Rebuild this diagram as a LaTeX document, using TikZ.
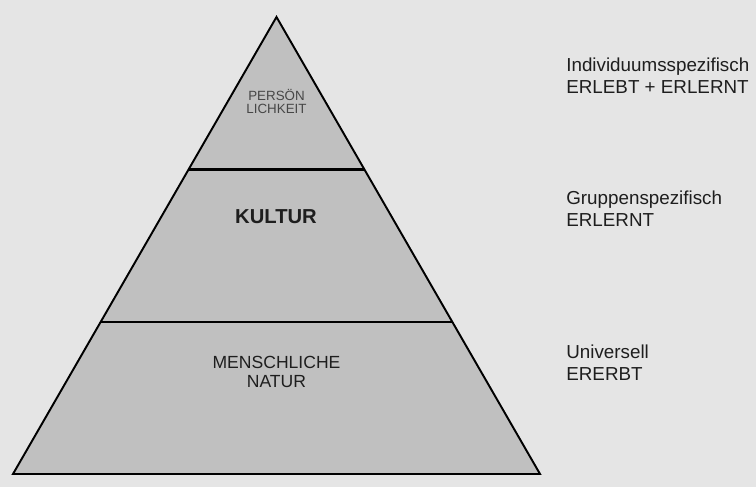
\documentclass[tikz,border=0pt]{standalone}
\usepackage{fontspec}
\setmainfont{Liberation Sans}
\usetikzlibrary{calc}
\definecolor{fond}{HTML}{E5E5E5}
\definecolor{stein}{HTML}{C0C0C0}
\definecolor{schrift}{HTML}{1E1E1E}
\begin{document}
\begin{tikzpicture}
    %%%%%%%%%%%%%%%%%%%%%%%%%%%%%%%%%%%%%% Fond
    \fill[fond] (0,0)--(15.12,0)--(15.12,9.74)--(0,9.74)--cycle;
    \useasboundingbox (0,0) rectangle (15.12,9.74);

    %%%%%%%%%%%%%%%%%%%%%%%%%%%%%%%%%%%%%% Pyramide
    \coordinate (spitze) at (5.53,9.40);
    \coordinate (links) at (0.26,0.26);
    \coordinate (rechts) at (10.80,0.26);
    \filldraw[stein,draw=black,line width=1.1pt] (spitze)--(links)--(rechts)--cycle;

    \coordinate (l1) at ($(spitze)!1/3!(links)$);
    \coordinate (r1) at ($(spitze)!1/3!(rechts)$);
    \coordinate (l2) at ($(spitze)!2/3!(links)$);
    \coordinate (r2) at ($(spitze)!2/3!(rechts)$);
    \draw[line width=1.6pt] (l1)--(r1);
    \draw[line width=1.1pt] (l2)--(r2);

    %%%%%%%%%%%%%%%%%%%%%%%%%%%%%%%%%%%%%% Schichten
    \tikzstyle{schicht}=[align=center,text=schrift,font=\fontsize{10}{10.8}\selectfont,inner sep=0pt]
    \node[schicht,text=black!72,font=\fontsize{7.6}{7}\selectfont] (person) at (5.53,7.71) {PERSÖN\\LICHKEIT};
    \node[schicht,font=\fontsize{11.5}{12}\selectfont\bfseries] (kultur) at (5.52,5.41) {KULTUR};
    \node[schicht] (natur) at (5.53,2.30) {MENSCHLICHE\\NATUR};

    %%%%%%%%%%%%%%%%%%%%%%%%%%%%%%%%%%%%%% Legende
    \tikzstyle{legende}=[anchor=west,align=left,text=schrift,font=\fontsize{10.7}{12.6}\selectfont,inner sep=0pt]
    \node[legende] (indiv) at (11.32,8.22) {Individuumsspezifisch\\ERLEBT + ERLERNT};
    \node[legende] (gruppe) at (11.32,5.56) {Gruppenspezifisch\\ERLERNT};
    \node[legende] (univ) at (11.32,2.49) {Universell\\ERERBT};
\end{tikzpicture}
\end{document}
